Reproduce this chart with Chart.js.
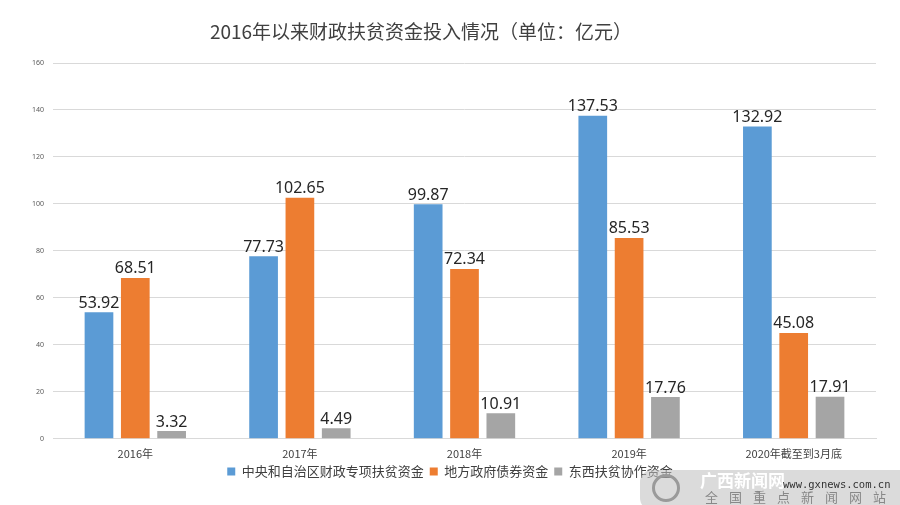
<!DOCTYPE html>
<html>
<head>
<meta charset="utf-8">
<script src="https://cdn.jsdelivr.net/npm/chart.js@4/dist/chart.umd.min.js"></script>
<style>
  html, body { margin: 0; padding: 0; background: #ffffff; }
  #wrap { position: relative; width: 900px; height: 505px; overflow: hidden; }
  #title { position: absolute; left: 0; top: 17px; width: 842px; text-align: center;
           font-family: "Noto Sans CJK SC", "Noto Sans", sans-serif; font-size: 19px; color: #404040; line-height: 28px; }
  #wm { position: absolute; left: 640px; top: 470px; width: 275px; height: 40px; border-radius: 12px;
        background: rgba(190,190,190,0.55); font-family: "Noto Sans CJK SC", sans-serif; }
  #wm .a { position: absolute; left: 60px; top: 0px; font-size: 17px; font-weight: bold; color: #ffffff; letter-spacing: 0px; line-height: 20px; }
  #wm .b { position: absolute; left: 143px; top: 8px; font-size: 10.5px; color: #333; font-family: "DejaVu Sans Mono", monospace; line-height: 12px; }
  #wm .c { position: absolute; left: 65px; top: 19px; font-size: 13px; color: #888; letter-spacing: 11px; line-height: 16px; }
  #wm .logo { position: absolute; left: 12px; top: 4px; width: 28px; height: 28px; border-radius: 50%; border: 3px solid #9a9a9a; box-sizing: border-box; }
</style>
</head>
<body>
<div id="wrap">
  <canvas id="c" width="900" height="505"></canvas>
  <div id="title">2016年以来财政扶贫资金投入情况（单位：亿元）</div>
  <div id="wm"><div class="logo"></div><div class="a">广西新闻网</div><div class="b">www.gxnews.com.cn</div><div class="c">全国重点新闻网站</div></div>
</div>
<script>
const categories = ["2016年", "2017年", "2018年", "2019年", "2020年截至到3月底"];
const seriesNames = ["中央和自治区财政专项扶贫资金", "地方政府债券资金", "东西扶贫协作资金"];
const centralFunds = [53.92, 77.73, 99.87, 137.53, 132.92];
const localBonds = [68.51, 102.65, 72.34, 85.53, 45.08];
const eastWestFunds = [3.32, 4.49, 10.91, 17.76, 17.91];
const yTicks = [0, 20, 40, 60, 80, 100, 120, 140, 160];

const colors = ["#5B9BD5", "#ED7D31", "#A5A5A5"];

const valueLabels = {
  id: "valueLabels",
  afterDatasetsDraw(chart) {
    const ctx = chart.ctx;
    ctx.save();
    ctx.font = '16px "Noto Sans", "Open Sans", sans-serif';
    ctx.fillStyle = "#262626";
    ctx.textAlign = "center";
    ctx.textBaseline = "bottom";
    chart.data.datasets.forEach((ds, i) => {
      const meta = chart.getDatasetMeta(i);
      meta.data.forEach((el, j) => {
        ctx.fillText(ds.data[j].toFixed(2), el.x, el.y - 1);
      });
    });
    ctx.restore();
  }
};

const legendShift = {
  id: "legendShift",
  afterLayout(chart) {
    const lg = chart.legend;
    if (lg) { lg.left += 12; lg.right += 12; lg.top -= 9; lg.bottom -= 9; }
  }
};

new Chart(document.getElementById("c"), {
  type: "bar",
  data: {
    labels: categories,
    datasets: [
      { label: seriesNames[0], data: centralFunds, backgroundColor: colors[0] },
      { label: seriesNames[1], data: localBonds, backgroundColor: colors[1] },
      { label: seriesNames[2], data: eastWestFunds, backgroundColor: colors[2] }
    ]
  },
  options: {
    responsive: false,
    animation: false,
    devicePixelRatio: 1,
    layout: { padding: { top: 63, right: 24, left: 0, bottom: 8 } },
    datasets: { bar: { categoryPercentage: 0.662, barPercentage: 0.79 } },
    scales: {
      x: {
        grid: { display: false, drawTicks: false },
        border: { display: true, color: "#d9d9d9" },
        ticks: { padding: 8, color: "#404040", font: { family: '"Noto Sans CJK SC", sans-serif', size: 11 } }
      },
      y: {
        min: 0, max: 160,
        afterBuildTicks(scale) { scale.ticks = yTicks.map(v => ({ value: v })); },
        afterFit(scale) { scale.width = 53; },
        grid: { color: "#d9d9d9", drawTicks: false },
        border: { display: false },
        ticks: { padding: 9, color: "#595959", font: { family: '"Noto Sans", sans-serif', size: 7 } }
      }
    },
    plugins: {
      title: { display: false },
      tooltip: { enabled: false },
      legend: {
        position: "bottom",
        labels: {
          boxWidth: 8, boxHeight: 8, padding: 6, color: "#404040",
          font: { family: '"Noto Sans CJK SC", sans-serif', size: 13 }
        }
      }
    }
  },
  plugins: [valueLabels, legendShift]
});
</script>
</body>
</html>
